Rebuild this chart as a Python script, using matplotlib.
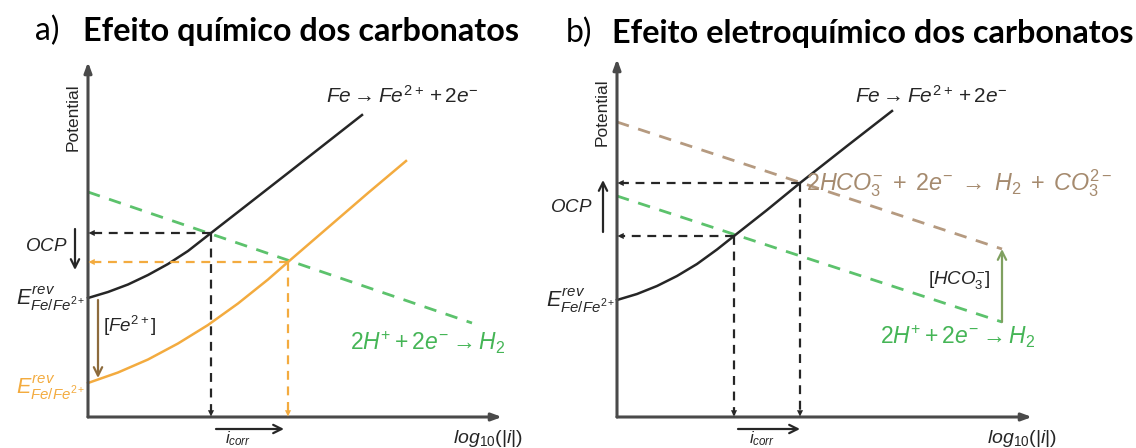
import matplotlib
matplotlib.use('Agg')
import matplotlib.pyplot as plt

plt.rcParams['mathtext.fontset'] = 'custom'
plt.rcParams['mathtext.rm'] = 'Liberation Sans'
plt.rcParams['mathtext.it'] = 'Liberation Sans:italic'
plt.rcParams['mathtext.bf'] = 'Liberation Sans:bold'
plt.rcParams['font.family'] = ['Liberation Sans', 'DejaVu Sans']

# ---------------- data (schematic units: x = log10|i|, y = potential) -------------
# Panel a: chemical effect
a_fe_x = [0.0, 2.0, 4.0, 6.0, 8.0, 10.0, 12.3, 15.0, 20.0, 27.4]
a_fe_y = [11.9, 12.5, 13.25, 14.2, 15.3, 16.6, 18.4, 20.5, 24.4, 30.2]
a_fe2_x = [0.0, 3.0, 6.0, 9.0, 12.0, 15.0, 18.0, 20.0, 24.0, 28.0, 31.8]
a_fe2_y = [3.4, 4.45, 5.75, 7.35, 9.2, 11.35, 13.75, 15.5, 18.95, 22.4, 25.6]
a_h_x = [0.0, 38.4]
a_h_y = [22.5, 9.4]
a_ocp = [18.4, 15.5]     # OCP before / after
a_icorr = [12.3, 20.0]   # i_corr before / after

# Panel b: electrochemical effect
b_fe_x = [0.0, 2.0, 4.0, 6.0, 8.0, 10.0, 11.7, 15.0, 18.3, 23.0, 27.5]
b_fe_y = [11.7, 12.3, 13.1, 14.1, 15.3, 16.75, 18.1, 20.7, 23.4, 27.1, 30.6]
b_hco3_x = [0.0, 38.5]
b_hco3_y = [29.5, 16.8]
b_h_x = [0.0, 38.5]
b_h_y = [22.1, 9.5]
b_ocp = [18.1, 23.4]
b_icorr = [11.7, 18.3]

BLACK = '#262626'
AXC = '#4a4a4a'
ORANGE = '#f3ab3f'
GREEN = '#5cc26c'
GREEN_T = '#45b556'
BROWN = '#b59a80'
BROWN_T = '#a58a6e'
FEARROW = '#8d6b3c'
HCOARROW = '#7fa060'

W, H = 1136, 448
fig = plt.figure(figsize=(W / 100, H / 100), dpi=100)


def make_axes(x0_px, origin_px):
    ax = fig.add_axes([x0_px / W, 0, 568 / W, 1])
    ox, oy = origin_px
    ax.set_xlim((x0_px - ox) / 10, (x0_px + 568 - ox) / 10)
    ax.set_ylim((oy - H) / 10, oy / 10)
    ax.axis('off')
    return ax


def head(ax, x, y, dx, dy, color, hl=0.45, hw=0.22):
    ax.annotate('', xy=(x, y), xytext=(x - dx, y - dy),
                arrowprops=dict(arrowstyle=f'-|>,head_length={hl},head_width={hw}',
                                color=color, lw=0.01, shrinkA=0, shrinkB=0))


def open_arrow(ax, x0, y0, x1, y1, color, lw=1.6):
    ax.annotate('', xy=(x1, y1), xytext=(x0, y0),
                arrowprops=dict(arrowstyle='->,head_length=0.6,head_width=0.3',
                                color=color, lw=lw, shrinkA=0, shrinkB=0))


def axes_arrows(ax, xtip, ytip):
    for xy in [(xtip, 0), (0, ytip)]:
        ax.annotate('', xy=xy, xytext=(0, 0),
                    arrowprops=dict(arrowstyle='-|>,head_length=0.6,head_width=0.22',
                                    color=AXC, lw=2.2, shrinkA=0, shrinkB=0))


def dashed_guides(ax, ix, oy, color):
    ax.plot([ix, 0.25], [oy, oy], color=color, lw=1.6, dashes=(4, 3))
    head(ax, 0.05, oy, -0.5, 0, color)
    ax.plot([ix, ix], [oy, 0.25], color=color, lw=1.6, dashes=(4, 3))
    head(ax, ix, 0.05, 0, -0.5, color)


FE_TXT = r'$Fe \rightarrow Fe^{2+} + 2e^{-}$'
H_TXT = r'$2H^{+} + 2e^{-} \rightarrow H_2$'
E_TXT = r'$E^{rev}_{Fe/Fe^{2+}}$'
HCO_TXT = r'$2HCO_3^{-} \;+\; 2e^{-} \;\rightarrow\; H_2 \;+\; CO_3^{2-}$'

# ---------------- panel a ----------------
axa = make_axes(0, (88, 417))
axes_arrows(axa, 41.4, 35.5)
axa.plot(a_h_x, a_h_y, color=GREEN, lw=2.0, dashes=(4.5, 3.5))
axa.plot(a_fe_x, a_fe_y, color=BLACK, lw=1.8)
axa.plot(a_fe2_x, a_fe2_y, color=ORANGE, lw=1.8)
dashed_guides(axa, a_icorr[0], a_ocp[0], BLACK)
dashed_guides(axa, a_icorr[1], a_ocp[1], ORANGE)
open_arrow(axa, -1.3, 18.8, -1.3, 14.7, BLACK)
axa.text(-2.0, 17.1, r'$OCP$', ha='right', va='center', fontsize=13.5, color=BLACK)
axa.text(-0.3, 11.9, E_TXT, ha='right', va='center', fontsize=15.5, color=BLACK)
axa.text(-0.3, 3.0, E_TXT, ha='right', va='center', fontsize=15.5, color=ORANGE)
open_arrow(axa, 1.0, 11.7, 1.0, 3.9, FEARROW)
axa.text(1.5, 9.1, r'$[Fe^{2+}]$', ha='left', va='center', fontsize=13.5, color=BLACK)
axa.text(26.2, 7.4, H_TXT, ha='left', va='center', fontsize=16.5, color=GREEN_T)
axa.text(23.8, 32.1, FE_TXT, ha='left', va='center', fontsize=15, color=BLACK)
open_arrow(axa, 12.8, -1.2, 19.6, -1.2, BLACK)
axa.text(15.0, -2.15, r'$i_{corr}$', ha='center', va='center', fontsize=12, color=BLACK)
axa.text(36.5, -2.1, r'$log_{10}(|i|)$', ha='left', va='center', fontsize=14, color=BLACK)
axa.text(-1.5, 30.0, 'Potential', rotation=90, ha='center', va='center',
         fontsize=12.5, color=BLACK)

# ---------------- panel b ----------------
axb = make_axes(568, (617, 417))
axes_arrows(axb, 41.5, 35.8)
axb.plot(b_h_x, b_h_y, color=GREEN, lw=2.0, dashes=(4.5, 3.5))
axb.plot(b_hco3_x, b_hco3_y, color=BROWN, lw=2.0, dashes=(4.5, 3.5))
axb.plot(b_fe_x, b_fe_y, color=BLACK, lw=1.8)
dashed_guides(axb, b_icorr[0], b_ocp[0], BLACK)
dashed_guides(axb, b_icorr[1], b_ocp[1], BLACK)
open_arrow(axb, -1.4, 18.5, -1.4, 23.7, BLACK)
axb.text(-2.4, 21.0, r'$OCP$', ha='right', va='center', fontsize=13.5, color=BLACK)
axb.text(-0.2, 11.7, E_TXT, ha='right', va='center', fontsize=15.5, color=BLACK)
open_arrow(axb, b_h_x[1], b_h_y[1], b_hco3_x[1], b_hco3_y[1], HCOARROW)
axb.text(37.3, 13.7, r'$[HCO_3^{-}]$', ha='right', va='center', fontsize=13.5, color=BLACK)
axb.text(18.9, 23.4, HCO_TXT, ha='left', va='center', fontsize=16.8, color=BROWN_T)
axb.text(26.3, 8.0, H_TXT, ha='left', va='center', fontsize=16.5, color=GREEN_T)
axb.text(23.8, 32.1, FE_TXT, ha='left', va='center', fontsize=15, color=BLACK)
open_arrow(axb, 12.1, -1.2, 18.3, -1.2, BLACK)
axb.text(14.5, -2.15, r'$i_{corr}$', ha='center', va='center', fontsize=12, color=BLACK)
axb.text(37.0, -2.1, r'$log_{10}(|i|)$', ha='left', va='center', fontsize=14, color=BLACK)
axb.text(-1.5, 30.5, 'Potential', rotation=90, ha='center', va='center',
         fontsize=12.5, color=BLACK)

# ---------------- titles ----------------
TF = ['Lato', 'DejaVu Sans']
fig.text(35 / W, 1 - 31 / H, 'a)', fontsize=23, family=TF, va='center', ha='left')
fig.text(83 / W, 1 - 31 / H, 'Efeito químico dos carbonatos', fontsize=23.3, family=TF,
         fontweight='bold', va='center', ha='left')
fig.text(566 / W, 1 - 33 / H, 'b)', fontsize=23, family=TF, va='center', ha='left')
fig.text(612 / W, 1 - 33 / H, 'Efeito eletroquímico dos carbonatos', fontsize=23.3,
         family=TF, fontweight='bold', va='center', ha='left')

fig.savefig('out.png', dpi=100, facecolor='white')
